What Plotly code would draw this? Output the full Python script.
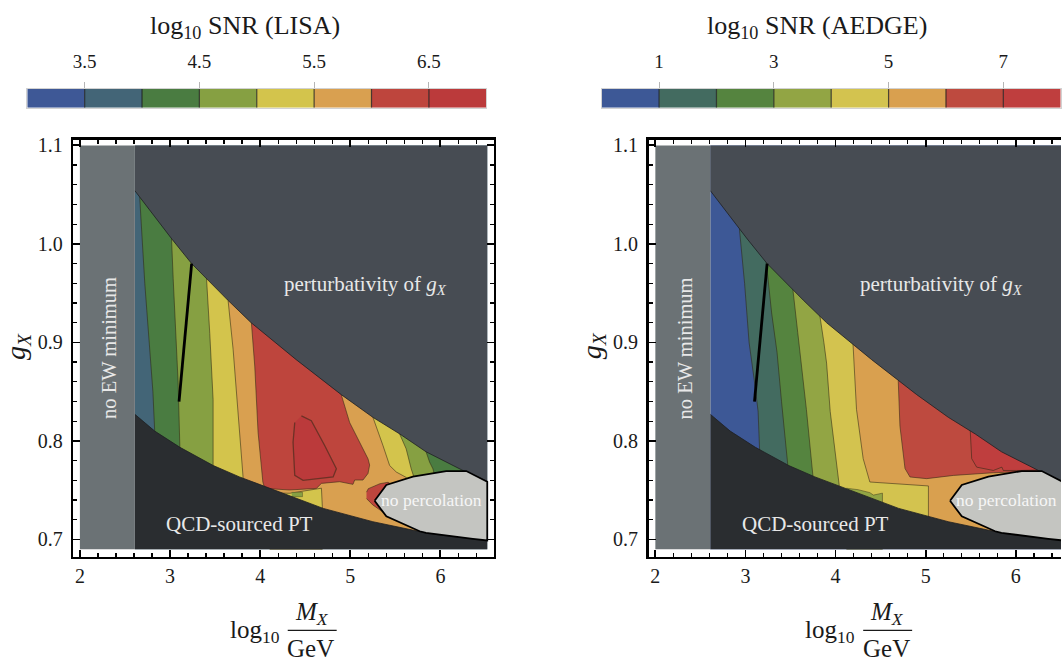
import plotly.graph_objects as go

FONT = "Liberation Serif"

# ---------------- data ----------------
XMIN, XMAX = 2.0, 6.52          # extent of the scanned parameter region
YMIN, YMAX = 0.69, 1.10
EW_EDGE = 2.61                  # below this M_X there is no EW minimum

# perturbativity bound (upper edge of allowed region)
UPPER_X = [2.61, 3.02, 3.24, 3.40, 3.64, 3.90, 4.40, 4.90, 5.25, 5.55, 5.84, 6.25, 6.52]
UPPER_Y = [1.054, 1.005, 0.980, 0.965, 0.943, 0.920, 0.8825, 0.847, 0.824, 0.807, 0.789, 0.770, 0.759]
# QCD-sourced PT bound (lower edge of allowed region)
LOWER_X = [2.61, 2.83, 3.11, 3.48, 3.77, 4.11, 4.70, 5.25, 5.77, 6.00, 6.43, 6.52]
LOWER_Y = [0.827, 0.810, 0.7935, 0.775, 0.7635, 0.7515, 0.7315, 0.718, 0.708, 0.7045, 0.6995, 0.699]
# no-percolation region
PERC_X = [5.27, 5.40, 5.695, 6.065, 6.287, 6.52, 6.52, 6.36, 5.84, 5.77, 5.40, 5.27]
PERC_Y = [0.7392, 0.7553, 0.7637, 0.7694, 0.7694, 0.7585, 0.699, 0.7006, 0.7066, 0.7083, 0.7234, 0.7392]
# benchmark line
BENCH_X = [3.10, 3.24]
BENCH_Y = [0.84, 0.98]

# ---- LISA: log10 SNR contour boundaries ----
LISA_EDGES = [3.0, 3.5, 4.0, 4.5, 5.0, 5.5, 6.0, 6.5, 7.0]
LISA_COLORS = ["#3e5896", "#436577", "#4a7c41", "#86a042", "#d3c44c", "#d9a050", "#be453d", "#bb3a3b"]
LISA_TICKS = [3.5, 4.5, 5.5, 6.5]

LISA_B40_X = [2.665, 2.72, 2.776, 2.81, 2.83]
LISA_B40_Y = [1.045, 0.96, 0.893, 0.85, 0.81]
LISA_B45_X = [3.017, 3.035, 3.053, 3.09, 3.109]
LISA_B45_Y = [1.005, 0.965, 0.926, 0.859, 0.794]
LISA_B45R_X = [5.843, 5.88, 5.917, 5.95, 5.95]
LISA_B45R_Y = [0.7885, 0.7785, 0.7717, 0.76, 0.72]
LISA_B50_X = [3.405, 3.441, 3.478, 3.478]
LISA_B50_Y = [0.965, 0.909, 0.842, 0.775]
LISA_B50R_X = [5.548, 5.62, 5.676, 5.70, 5.95]
LISA_B50R_Y = [0.807, 0.792, 0.7717, 0.765, 0.72]
LISA_B55_X = [3.644, 3.70, 3.755, 3.81]
LISA_B55_Y = [0.943, 0.893, 0.8255, 0.764]
LISA_B55R_X = [5.252, 5.363, 5.437, 5.511, 5.62, 5.95]
LISA_B55R_Y = [0.8238, 0.7953, 0.775, 0.7684, 0.763, 0.72]
LISA_R60_X = [3.903, 3.94, 3.977, 4.03, 4.051, 4.328, 4.624, 4.68, 4.882, 5.03, 5.049,
              5.141, 5.197, 5.215, 5.197, 5.104, 4.993, 4.90]
LISA_R60_Y = [0.920, 0.876, 0.8087, 0.7583, 0.7518, 0.7502, 0.7518, 0.7569, 0.7586, 0.7559, 0.7603,
              0.7603, 0.767, 0.7755, 0.7818, 0.7986, 0.8187, 0.847]
LISA_RN_X = [5.18, 5.20, 5.33, 5.42, 5.47, 5.40, 5.36, 5.25, 5.18]
LISA_RN_Y = [0.748, 0.7515, 0.7566, 0.758, 0.755, 0.74, 0.728, 0.735, 0.7415]
LISA_R65_X = [4.458, 4.568, 4.716, 4.846, 4.81, 4.476, 4.384, 4.365, 4.384]
LISA_R65_Y = [0.8255, 0.8205, 0.7953, 0.7717, 0.7634, 0.760, 0.765, 0.7986, 0.8187]
LISA_YH_X = [4.106, 4.20, 4.33, 4.44, 4.55, 4.642, 4.68, 4.69, 4.69, 4.106]
LISA_YH_Y = [0.7516, 0.747, 0.7469, 0.7486, 0.750, 0.752, 0.752, 0.7335, 0.69, 0.69]
LISA_OH_X = [4.35, 4.47, 4.47, 4.35]
LISA_OH_Y = [0.7478, 0.7478, 0.7434, 0.7434]

# ---- AEDGE: log10 SNR contour boundaries ----
AEDGE_EDGES = [0, 1, 2, 3, 4, 5, 6, 7, 8]
AEDGE_COLORS = ["#3d5896", "#436b60", "#55843f", "#92a544", "#d3c34f", "#d9a04f", "#be4a3f", "#bf3e3e"]
AEDGE_TICKS = [1, 3, 5, 7]

AEDGE_B1_X = [2.934, 2.99, 3.04, 3.10, 3.14, 3.157]
AEDGE_B1_Y = [1.014, 0.96, 0.90, 0.86, 0.83, 0.79]
AEDGE_B2_X = [3.23, 3.29, 3.35, 3.40, 3.47]
AEDGE_B2_Y = [0.982, 0.93, 0.89, 0.84, 0.775]
AEDGE_B3_X = [3.527, 3.58, 3.62, 3.676, 3.75]
AEDGE_B3_Y = [0.953, 0.91, 0.879, 0.832, 0.763]
AEDGE_B4_X = [3.824, 3.87, 3.90, 3.94, 4.04]
AEDGE_B4_Y = [0.928, 0.90, 0.879, 0.83, 0.755]
AEDGE_B5_X = [4.19, 4.232, 4.306, 4.38, 4.70, 4.99, 5.03, 5.03]
AEDGE_B5_Y = [0.904, 0.832, 0.782, 0.7583, 0.7565, 0.7546, 0.7543, 0.72]
AEDGE_R6_X = [4.695, 4.714, 4.77, 4.825, 5.01, 5.31, 5.75, 6.12, 6.52]
AEDGE_R6_Y = [0.861, 0.815, 0.772, 0.7634, 0.7617, 0.765, 0.7677, 0.769, 0.769]
AEDGE_R7_X = [5.49, 5.51, 5.565, 5.75, 5.845, 5.86, 6.05, 6.25, 6.52]
AEDGE_R7_Y = [0.8175, 0.782, 0.7734, 0.770, 0.7734, 0.770, 0.770, 0.7705, 0.77]
AEDGE_OH_X = [4.12, 4.25, 4.38, 4.42, 4.52, 4.52, 4.12]
AEDGE_OH_Y = [0.752, 0.7505, 0.7475, 0.745, 0.747, 0.69, 0.69]

# ---------------- styles ----------------
C_EW = "#6b7275"
C_PERT = "#474c53"
C_QCD = "#2a2d30"
C_PERC = "#c4c5c1"
C_CONT = "rgba(45,38,20,0.55)"
TXT = "#e8e8e8"

EXT_T, EXT_B, EXT_R = YMAX - 0.004, YMIN + 0.004, XMAX - 0.01


def poly(xs, ys, fill, xa, ya, lw=0.0, lc=None):
    return go.Scatter(x=list(xs), y=list(ys), mode="lines", fill="toself", fillcolor=fill,
                      line=dict(color=lc or fill, width=lw), hoverinfo="skip",
                      showlegend=False, xaxis=xa, yaxis=ya)


def band(lx, ly, rx=None, ry=None):
    xs = [lx[0]] + list(lx) + [lx[-1]]
    ys = [EXT_T] + list(ly) + [EXT_B]
    if rx is None:
        xs += [EXT_R, EXT_R]
        ys += [EXT_B, EXT_T]
    else:
        xs += [rx[-1]] + list(rx[::-1]) + [rx[0]]
        ys += [EXT_B] + list(ry[::-1]) + [EXT_T]
    return xs, ys


def island_top(x, y):
    return list(x) + [x[-1], x[0]], list(y) + [EXT_T, EXT_T]


fig = go.Figure()


def add_frame(xa, ya, layers):
    base_col = layers[0]
    fig.add_trace(poly([EW_EDGE, XMAX, XMAX, EW_EDGE], [YMIN, YMIN, YMAX, YMAX], base_col, xa, ya))
    for item in layers[1:]:
        xs, ys, col, lw = item
        fig.add_trace(poly(xs, ys, col, xa, ya, lw=lw, lc=C_CONT))
    fig.add_trace(poly(UPPER_X + [XMAX, EW_EDGE], UPPER_Y + [YMAX, YMAX], C_PERT, xa, ya))
    fig.add_trace(poly(LOWER_X + [XMAX, EW_EDGE], LOWER_Y + [YMIN, YMIN], C_QCD, xa, ya))
    for cx, cy in ((UPPER_X, UPPER_Y), (LOWER_X, LOWER_Y)):
        fig.add_trace(go.Scatter(x=cx, y=cy, mode="lines", line=dict(color="#1e2022", width=0.8),
                                 hoverinfo="skip", showlegend=False, xaxis=xa, yaxis=ya))
    fig.add_trace(poly([XMIN, EW_EDGE, EW_EDGE, XMIN], [YMIN, YMIN, YMAX, YMAX], C_EW, xa, ya))
    fig.add_trace(poly(PERC_X, PERC_Y, C_PERC, xa, ya, lw=1.8, lc="black"))
    fig.add_trace(go.Scatter(x=BENCH_X, y=BENCH_Y, mode="lines", line=dict(color="black", width=2.8),
                             hoverinfo="skip", showlegend=False, xaxis=xa, yaxis=ya))


L = LISA_COLORS
lisa_layers = [L[1],
               (*band(LISA_B40_X, LISA_B40_Y), L[2], 1),
               (*band(LISA_B45_X, LISA_B45_Y, LISA_B45R_X, LISA_B45R_Y), L[3], 1),
               (*band(LISA_B50_X, LISA_B50_Y, LISA_B50R_X, LISA_B50R_Y), L[4], 1),
               (*band(LISA_B55_X, LISA_B55_Y, LISA_B55R_X, LISA_B55R_Y), L[5], 1),
               (LISA_YH_X, LISA_YH_Y, L[4], 1),
               (LISA_OH_X, LISA_OH_Y, L[3], 0.6),
               (*island_top(LISA_R60_X, LISA_R60_Y), L[6], 1),
               (LISA_RN_X, LISA_RN_Y, L[6], 1),
               (LISA_R65_X, LISA_R65_Y, L[7], 1.3)]
add_frame("x", "y", lisa_layers)

A = AEDGE_COLORS
aedge_layers = [A[0],
                (*band(AEDGE_B1_X, AEDGE_B1_Y), A[1], 1),
                (*band(AEDGE_B2_X, AEDGE_B2_Y), A[2], 1),
                (*band(AEDGE_B3_X, AEDGE_B3_Y), A[3], 1),
                (*band(AEDGE_B4_X, AEDGE_B4_Y), A[4], 1),
                (AEDGE_OH_X, AEDGE_OH_Y, A[3], 0.8),
                (*band(AEDGE_B5_X, AEDGE_B5_Y), A[5], 1),
                (*island_top(AEDGE_R6_X, AEDGE_R6_Y), A[6], 1),
                (*island_top(AEDGE_R7_X, AEDGE_R7_Y), A[7], 1)]
add_frame("x2", "y2", aedge_layers)


# ---------------- colour bars ----------------
def add_cbar(edges, colors, xa, ya):
    for e0, e1, c in zip(edges[:-1], edges[1:], colors):
        fig.add_trace(go.Bar(x=[e1 - e0], base=[e0], y=[0], orientation="h", width=1,
                             marker=dict(color=c, line=dict(width=0)), hoverinfo="skip",
                             showlegend=False, xaxis=xa, yaxis=ya))
    dx, dy = [], []
    for e in edges[1:-1]:
        dx += [e, e, None]
        dy += [-0.5, 0.5, None]
    fig.add_trace(go.Scatter(x=dx, y=dy, mode="lines", line=dict(color="rgba(25,25,25,0.75)", width=1.2),
                             hoverinfo="skip", showlegend=False, xaxis=xa, yaxis=ya))


add_cbar(LISA_EDGES, LISA_COLORS, "x3", "y3")
add_cbar(AEDGE_EDGES, AEDGE_COLORS, "x4", "y4")

# ---------------- layout ----------------
W, H = 1062, 663
tickfont = dict(family=FONT, size=20, color="#1a1a1a")


def frame_x(dom, rng, anchor):
    return dict(domain=dom, range=rng, anchor=anchor, showline=True, linewidth=2.6, linecolor="black",
                mirror="ticks", ticks="inside", ticklen=7, tickwidth=1.8, tickcolor="black",
                tickmode="linear", tick0=2, dtick=1, showgrid=False, zeroline=False, tickfont=tickfont,
                minor=dict(ticks="inside", ticklen=4, tickwidth=1.3, tickcolor="black", tick0=2, dtick=0.2,
                           showgrid=False), ticklabelstandoff=0)


def frame_y(dom, rng, anchor, mirror):
    return dict(domain=dom, range=rng, anchor=anchor, showline=True, linewidth=2.6, linecolor="black",
                mirror=mirror, ticks="inside", ticklen=7, tickwidth=1.8, tickcolor="black",
                tickmode="linear", tick0=0.7, dtick=0.1, tickformat=".1f", showgrid=False, zeroline=False,
                tickfont=tickfont,
                minor=dict(ticks="inside", ticklen=4, tickwidth=1.3, tickcolor="black", tick0=0.7, dtick=0.02,
                           showgrid=False), ticklabelstandoff=4)


def cbar_x(dom, rng, anchor, ticks):
    return dict(domain=dom, range=rng, anchor=anchor, side="top", showline=True, mirror=True,
                linecolor="#d2d2d2", linewidth=1, ticks="outside", ticklen=6, tickwidth=1,
                tickcolor="#b5b5b5", tickmode="array", tickvals=ticks, showgrid=False, zeroline=False,
                tickfont=dict(family=FONT, size=19, color="#1a1a1a"), ticklabelstandoff=6)


def cbar_y(dom, anchor):
    return dict(domain=dom, range=[-0.5, 0.5], anchor=anchor, showline=True, mirror=True,
                linecolor="#d2d2d2", linewidth=1, showticklabels=False, ticks="", showgrid=False,
                zeroline=False)


YDOM = [1 - 555.7 / H, 1 - 135.3 / H]
CBY = [1 - 102.7 / H, 1 - 83.3 / H]
fig.update_layout(
    width=W, height=H, margin=dict(l=0, r=0, t=0, b=0),
    paper_bgcolor="white", plot_bgcolor="white", showlegend=False, barmode="overlay",
    font=dict(family=FONT),
    xaxis=frame_x([73.3 / W, 494.3 / W], [1.926, 6.593], "y"),
    yaxis=frame_y(YDOM, [0.6825, 1.1054], "x", "ticks"),
    xaxis2=frame_x([649.3 / W, 1.0], [1.926, 6.501], "y2"),
    yaxis2=frame_y(YDOM, [0.6825, 1.1054], "x2", False),
    xaxis3=cbar_x([27.3 / W, 486.7 / W], [3, 7], "y3", LISA_TICKS),
    yaxis3=cbar_y(CBY, "x3"),
    xaxis4=cbar_x([602.3 / W, 1061.7 / W], [0, 8], "y4", AEDGE_TICKS),
    yaxis4=cbar_y(CBY, "x4"),
)

ann = []
shapes = []


def px_ann(text, x, y, size, color="#1a1a1a", angle=0):
    ann.append(dict(text=text, x=x / W, y=1 - y / H, xref="paper", yref="paper", showarrow=False,
                    xanchor="center", yanchor="middle", textangle=angle,
                    font=dict(family=FONT, size=size, color=color)))


def data_ann(text, x, y, xa, ya, size, color=TXT, angle=0):
    ann.append(dict(text=text, x=x, y=y, xref=xa, yref=ya, showarrow=False, xanchor="center",
                    yanchor="middle", textangle=angle, font=dict(family=FONT, size=size, color=color)))


px_ann("log<sub>10</sub> SNR (LISA)", 245, 21, 26)
px_ann("log<sub>10</sub> SNR (AEDGE)", 818, 21, 26)

for off, xa, ya in ((0, "x", "y"), (576, "x2", "y2")):
    px_ann("<i>g</i><sub><i>X</i></sub>", 18 + off, 343, 28, angle=-90)
    px_ann("log<sub>10</sub>", 255 + off, 631, 25)
    px_ann("<i>M</i><sub><i>X</i></sub>", 312 + off, 613, 25)
    px_ann("GeV", 311 + off, 648, 25)
    shapes.append(dict(type="line", xref="paper", yref="paper", x0=(288 + off) / W, x1=(337 + off) / W,
                       y0=1 - 630 / H, y1=1 - 630 / H, line=dict(color="#1a1a1a", width=1.2)))
    data_ann("perturbativity of <i>g</i><sub><i>X</i></sub>", 5.17, 0.958, xa, ya, 21)
    data_ann("no EW minimum", 2.33, 0.894, xa, ya, 20.5, angle=-90)
    data_ann("QCD-sourced PT", 3.774, 0.716, xa, ya, 21)
    data_ann("no percolation", 5.90, 0.740, xa, ya, 17.5, color="#f6f6f6")

fig.update_layout(annotations=ann, shapes=shapes)
fig.write_html("out.html", config={"displayModeBar": False, "staticPlot": True},
               post_script="document.body.style.margin='0';document.body.style.overflow='hidden';")
